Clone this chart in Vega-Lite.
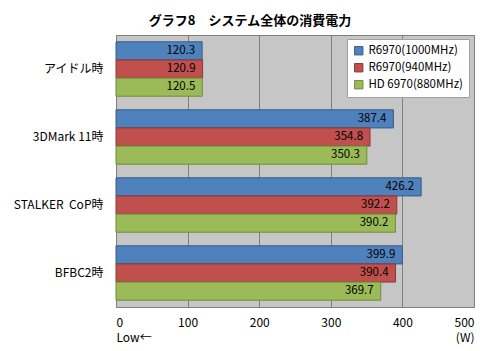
{
  "$schema": "https://vega.github.io/schema/vega-lite/v6.json",
  "width": 358,
  "height": 272,
  "autosize": "none",
  "padding": {"left": 116, "top": 35, "right": 26, "bottom": 44},
  "background": "#ffffff",
  "title": {
    "text": "グラフ8　システム全体の消費電力",
    "font": "Noto Sans CJK JP",
    "fontSize": 13,
    "fontWeight": "bold",
    "color": "#000000",
    "anchor": "middle",
    "dx": -45,
    "offset": 7
  },
  "config": {
    "view": {"fill": "#c6c6c6", "stroke": "#808080", "strokeWidth": 1},
    "font": "Noto Sans CJK JP"
  },
  "data": {
    "values": [
      {"cat": "アイドル時", "series": "R6970(1000MHz)", "value": 120.3},
      {"cat": "アイドル時", "series": "R6970(940MHz)", "value": 120.9},
      {"cat": "アイドル時", "series": "HD 6970(880MHz)", "value": 120.5},
      {"cat": "3DMark 11時", "series": "R6970(1000MHz)", "value": 387.4},
      {"cat": "3DMark 11時", "series": "R6970(940MHz)", "value": 354.8},
      {"cat": "3DMark 11時", "series": "HD 6970(880MHz)", "value": 350.3},
      {"cat": "STALKER\u00a0\u00a0CoP時", "series": "R6970(1000MHz)", "value": 426.2},
      {"cat": "STALKER\u00a0\u00a0CoP時", "series": "R6970(940MHz)", "value": 392.2},
      {"cat": "STALKER\u00a0\u00a0CoP時", "series": "HD 6970(880MHz)", "value": 390.2},
      {"cat": "BFBC2時", "series": "R6970(1000MHz)", "value": 399.9},
      {"cat": "BFBC2時", "series": "R6970(940MHz)", "value": 390.4},
      {"cat": "BFBC2時", "series": "HD 6970(880MHz)", "value": 369.7}
    ]
  },
  "encoding": {
    "y": {
      "field": "cat",
      "type": "nominal",
      "sort": null,
      "scale": {"paddingInner": 0.2, "paddingOuter": 0.1},
      "axis": {
        "title": null,
        "ticks": false,
        "domain": false,
        "labelPadding": 13,
        "labelFontSize": 12,
        "labelColor": "#000000",
        "labelFont": "Noto Sans CJK JP"
      }
    },
    "yOffset": {
      "field": "series",
      "type": "nominal",
      "sort": ["R6970(1000MHz)", "R6970(940MHz)", "HD 6970(880MHz)"],
      "scale": {"paddingInner": 0, "paddingOuter": 0}
    },
    "x": {
      "field": "value",
      "type": "quantitative",
      "scale": {"domain": [0, 500], "nice": false},
      "axis": {
        "title": null,
        "values": [0, 100, 200, 300, 400, 500],
        "ticks": false,
        "domain": false,
        "grid": true,
        "gridColor": "#7f7f7f",
        "gridOpacity": 1,
        "gridWidth": 1,
        "labelPadding": 10,
        "labelFontSize": 12,
        "labelColor": "#000000",
        "labelFont": "Noto Sans CJK JP",
        "labelLineHeight": 15,
        "labelExpr": "datum.value == 0 ? ['0', 'Low←'] : datum.value == 500 ? ['500', '(W)'] : datum.label"
      }
    }
  },
  "layer": [
    {
      "mark": {"type": "bar", "strokeWidth": 1},
      "encoding": {
        "fill": {
          "field": "series",
          "type": "nominal",
          "sort": ["R6970(1000MHz)", "R6970(940MHz)", "HD 6970(880MHz)"],
          "scale": {"range": ["#4f81bd", "#c0504d", "#9bbb59"]},
          "legend": {
            "title": null,
            "orient": "none",
            "legendX": 231,
            "legendY": 4,
            "fillColor": "#ffffff",
            "strokeColor": "#a0a0a0",
            "padding": 6,
            "symbolType": "square",
            "symbolSize": 70,
            "symbolStrokeWidth": 1,
            "labelFontSize": 11.5,
            "labelColor": "#000000",
            "labelFont": "Noto Sans CJK JP",
            "rowPadding": 4,
            "labelOffset": 4,
            "encode": {
              "symbols": {
                "update": {
                  "stroke": {"scale": "stroke", "field": "value"},
                  "strokeWidth": {"value": 1}
                }
              }
            }
          }
        },
        "stroke": {
          "field": "series",
          "type": "nominal",
          "sort": ["R6970(1000MHz)", "R6970(940MHz)", "HD 6970(880MHz)"],
          "scale": {"range": ["#385d8a", "#8c3836", "#71893f"]},
          "legend": null
        }
      }
    },
    {
      "mark": {"type": "text", "align": "right", "baseline": "middle", "dx": -7, "fontSize": 11.5, "color": "#000000", "font": "Noto Sans CJK JP"},
      "encoding": {
        "text": {"field": "value", "type": "quantitative", "format": ".1f"}
      }
    }
  ]
}
